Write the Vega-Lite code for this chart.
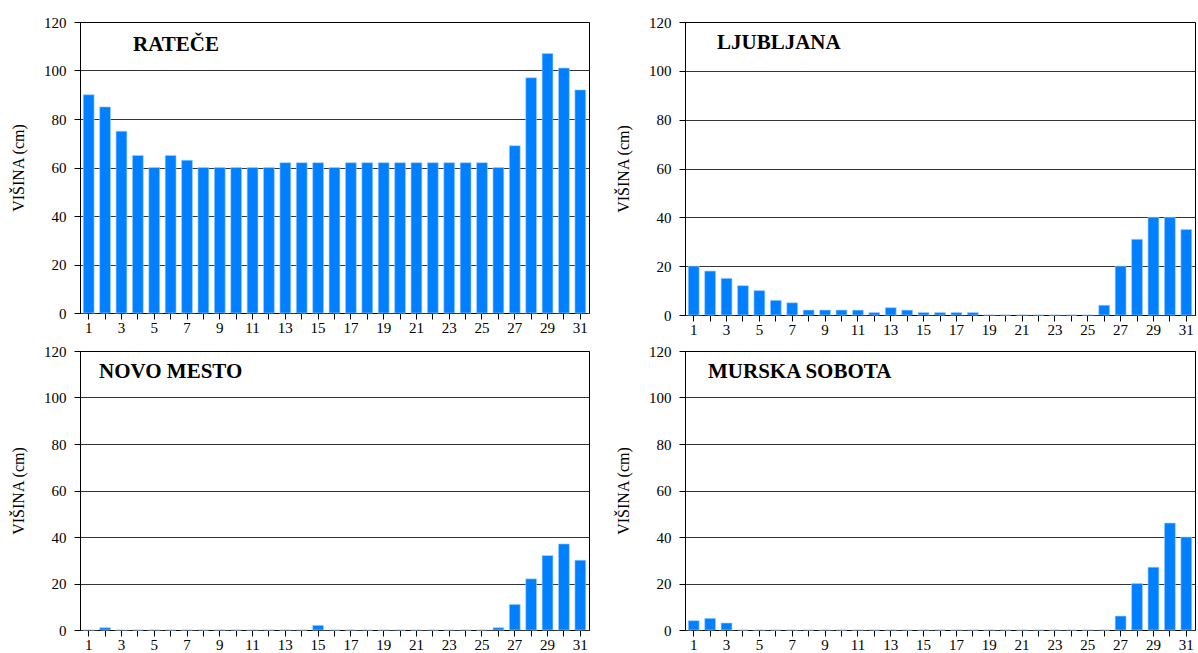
{
  "$schema": "https://vega.github.io/schema/vega-lite/v6.json",
  "background": "white",
  "padding": {"left": 10, "top": 14, "right": 0, "bottom": 0},
  "spacing": {"column": 25, "row": 5},
  "columns": 2,
  "datasets": {
    "snow": [
      {"station": "RATEČE", "day": 1, "cm": 90}, {"station": "RATEČE", "day": 2, "cm": 85}, {"station": "RATEČE", "day": 3, "cm": 75}, {"station": "RATEČE", "day": 4, "cm": 65}, {"station": "RATEČE", "day": 5, "cm": 60}, {"station": "RATEČE", "day": 6, "cm": 65}, {"station": "RATEČE", "day": 7, "cm": 63}, {"station": "RATEČE", "day": 8, "cm": 60}, {"station": "RATEČE", "day": 9, "cm": 60}, {"station": "RATEČE", "day": 10, "cm": 60}, {"station": "RATEČE", "day": 11, "cm": 60}, {"station": "RATEČE", "day": 12, "cm": 60}, {"station": "RATEČE", "day": 13, "cm": 62}, {"station": "RATEČE", "day": 14, "cm": 62}, {"station": "RATEČE", "day": 15, "cm": 62}, {"station": "RATEČE", "day": 16, "cm": 60}, {"station": "RATEČE", "day": 17, "cm": 62}, {"station": "RATEČE", "day": 18, "cm": 62}, {"station": "RATEČE", "day": 19, "cm": 62}, {"station": "RATEČE", "day": 20, "cm": 62}, {"station": "RATEČE", "day": 21, "cm": 62}, {"station": "RATEČE", "day": 22, "cm": 62}, {"station": "RATEČE", "day": 23, "cm": 62}, {"station": "RATEČE", "day": 24, "cm": 62}, {"station": "RATEČE", "day": 25, "cm": 62}, {"station": "RATEČE", "day": 26, "cm": 60}, {"station": "RATEČE", "day": 27, "cm": 69}, {"station": "RATEČE", "day": 28, "cm": 97}, {"station": "RATEČE", "day": 29, "cm": 107}, {"station": "RATEČE", "day": 30, "cm": 101}, {"station": "RATEČE", "day": 31, "cm": 92},
      {"station": "LJUBLJANA", "day": 1, "cm": 20}, {"station": "LJUBLJANA", "day": 2, "cm": 18}, {"station": "LJUBLJANA", "day": 3, "cm": 15}, {"station": "LJUBLJANA", "day": 4, "cm": 12}, {"station": "LJUBLJANA", "day": 5, "cm": 10}, {"station": "LJUBLJANA", "day": 6, "cm": 6}, {"station": "LJUBLJANA", "day": 7, "cm": 5}, {"station": "LJUBLJANA", "day": 8, "cm": 2}, {"station": "LJUBLJANA", "day": 9, "cm": 2}, {"station": "LJUBLJANA", "day": 10, "cm": 2}, {"station": "LJUBLJANA", "day": 11, "cm": 2}, {"station": "LJUBLJANA", "day": 12, "cm": 1}, {"station": "LJUBLJANA", "day": 13, "cm": 3}, {"station": "LJUBLJANA", "day": 14, "cm": 2}, {"station": "LJUBLJANA", "day": 15, "cm": 1}, {"station": "LJUBLJANA", "day": 16, "cm": 1}, {"station": "LJUBLJANA", "day": 17, "cm": 1}, {"station": "LJUBLJANA", "day": 18, "cm": 1}, {"station": "LJUBLJANA", "day": 19, "cm": 0}, {"station": "LJUBLJANA", "day": 20, "cm": 0}, {"station": "LJUBLJANA", "day": 21, "cm": 0}, {"station": "LJUBLJANA", "day": 22, "cm": 0}, {"station": "LJUBLJANA", "day": 23, "cm": 0}, {"station": "LJUBLJANA", "day": 24, "cm": 0}, {"station": "LJUBLJANA", "day": 25, "cm": 0}, {"station": "LJUBLJANA", "day": 26, "cm": 4}, {"station": "LJUBLJANA", "day": 27, "cm": 20}, {"station": "LJUBLJANA", "day": 28, "cm": 31}, {"station": "LJUBLJANA", "day": 29, "cm": 40}, {"station": "LJUBLJANA", "day": 30, "cm": 40}, {"station": "LJUBLJANA", "day": 31, "cm": 35},
      {"station": "NOVO MESTO", "day": 1, "cm": 0}, {"station": "NOVO MESTO", "day": 2, "cm": 1}, {"station": "NOVO MESTO", "day": 3, "cm": 0}, {"station": "NOVO MESTO", "day": 4, "cm": 0}, {"station": "NOVO MESTO", "day": 5, "cm": 0}, {"station": "NOVO MESTO", "day": 6, "cm": 0}, {"station": "NOVO MESTO", "day": 7, "cm": 0}, {"station": "NOVO MESTO", "day": 8, "cm": 0}, {"station": "NOVO MESTO", "day": 9, "cm": 0}, {"station": "NOVO MESTO", "day": 10, "cm": 0}, {"station": "NOVO MESTO", "day": 11, "cm": 0}, {"station": "NOVO MESTO", "day": 12, "cm": 0}, {"station": "NOVO MESTO", "day": 13, "cm": 0}, {"station": "NOVO MESTO", "day": 14, "cm": 0}, {"station": "NOVO MESTO", "day": 15, "cm": 2}, {"station": "NOVO MESTO", "day": 16, "cm": 0}, {"station": "NOVO MESTO", "day": 17, "cm": 0}, {"station": "NOVO MESTO", "day": 18, "cm": 0}, {"station": "NOVO MESTO", "day": 19, "cm": 0}, {"station": "NOVO MESTO", "day": 20, "cm": 0}, {"station": "NOVO MESTO", "day": 21, "cm": 0}, {"station": "NOVO MESTO", "day": 22, "cm": 0}, {"station": "NOVO MESTO", "day": 23, "cm": 0}, {"station": "NOVO MESTO", "day": 24, "cm": 0}, {"station": "NOVO MESTO", "day": 25, "cm": 0}, {"station": "NOVO MESTO", "day": 26, "cm": 1}, {"station": "NOVO MESTO", "day": 27, "cm": 11}, {"station": "NOVO MESTO", "day": 28, "cm": 22}, {"station": "NOVO MESTO", "day": 29, "cm": 32}, {"station": "NOVO MESTO", "day": 30, "cm": 37}, {"station": "NOVO MESTO", "day": 31, "cm": 30},
      {"station": "MURSKA SOBOTA", "day": 1, "cm": 4}, {"station": "MURSKA SOBOTA", "day": 2, "cm": 5}, {"station": "MURSKA SOBOTA", "day": 3, "cm": 3}, {"station": "MURSKA SOBOTA", "day": 4, "cm": 0}, {"station": "MURSKA SOBOTA", "day": 5, "cm": 0}, {"station": "MURSKA SOBOTA", "day": 6, "cm": 0}, {"station": "MURSKA SOBOTA", "day": 7, "cm": 0}, {"station": "MURSKA SOBOTA", "day": 8, "cm": 0}, {"station": "MURSKA SOBOTA", "day": 9, "cm": 0}, {"station": "MURSKA SOBOTA", "day": 10, "cm": 0}, {"station": "MURSKA SOBOTA", "day": 11, "cm": 0}, {"station": "MURSKA SOBOTA", "day": 12, "cm": 0}, {"station": "MURSKA SOBOTA", "day": 13, "cm": 0}, {"station": "MURSKA SOBOTA", "day": 14, "cm": 0}, {"station": "MURSKA SOBOTA", "day": 15, "cm": 0}, {"station": "MURSKA SOBOTA", "day": 16, "cm": 0}, {"station": "MURSKA SOBOTA", "day": 17, "cm": 0}, {"station": "MURSKA SOBOTA", "day": 18, "cm": 0}, {"station": "MURSKA SOBOTA", "day": 19, "cm": 0}, {"station": "MURSKA SOBOTA", "day": 20, "cm": 0}, {"station": "MURSKA SOBOTA", "day": 21, "cm": 0}, {"station": "MURSKA SOBOTA", "day": 22, "cm": 0}, {"station": "MURSKA SOBOTA", "day": 23, "cm": 0}, {"station": "MURSKA SOBOTA", "day": 24, "cm": 0}, {"station": "MURSKA SOBOTA", "day": 25, "cm": 0}, {"station": "MURSKA SOBOTA", "day": 26, "cm": 0}, {"station": "MURSKA SOBOTA", "day": 27, "cm": 6}, {"station": "MURSKA SOBOTA", "day": 28, "cm": 20}, {"station": "MURSKA SOBOTA", "day": 29, "cm": 27}, {"station": "MURSKA SOBOTA", "day": 30, "cm": 46}, {"station": "MURSKA SOBOTA", "day": 31, "cm": 40}
    ]
  },
  "config": {
    "font": "Liberation Serif",
    "view": {"stroke": "black", "strokeWidth": 1},
    "bar": {"color": "#0080FF", "stroke": "#9fcfff", "strokeWidth": 0.6},
    "scale": {"bandPaddingInner": 0.34, "bandPaddingOuter": 0.2},
    "axis": {
      "labelFont": "Liberation Serif", "labelFontSize": 15, "labelColor": "black",
      "titleFont": "Liberation Serif", "titleFontSize": 16, "titleFontWeight": "normal", "titleColor": "black",
      "domainColor": "black", "tickColor": "black", "tickSize": 6
    },
    "axisX": {"domainDash": [6, 5], "domainColor": "#333", "labelAngle": 0, "grid": false, "labelFlush": false, "labelPadding": 1},
    "axisY": {"gridColor": "black", "gridWidth": 0.8, "gridOpacity": 1, "titlePadding": 17, "labelPadding": 8},
    "title": {"font": "Liberation Serif", "fontSize": 21, "fontWeight": "bold", "color": "black", "anchor": "start", "frame": "group", "baseline": "alphabetic"}
  },
  "concat": [
    {
      "width": 509, "height": 291,
      "title": {"text": "RATEČE", "offset": -40, "dx": 53},
      "data": {"name": "snow"},
      "transform": [{"filter": "datum.station === 'RATEČE'"}],
      "mark": "bar",
      "encoding": {
        "x": {"field": "day", "type": "ordinal", "sort": null, "title": null, "axis": {"labelExpr": "datum.value % 2 === 1 ? datum.label : ''"}},
        "y": {"field": "cm", "type": "quantitative", "scale": {"domain": [0, 120]}, "title": "VIŠINA (cm)", "axis": {"values": [0, 20, 40, 60, 80, 100, 120]}}
      }
    },
    {
      "width": 510, "height": 293,
      "title": {"text": "LJUBLJANA", "offset": -38, "dx": 32},
      "data": {"name": "snow"},
      "transform": [{"filter": "datum.station === 'LJUBLJANA'"}],
      "mark": "bar",
      "encoding": {
        "x": {"field": "day", "type": "ordinal", "sort": null, "title": null, "axis": {"labelExpr": "datum.value % 2 === 1 ? datum.label : ''"}},
        "y": {"field": "cm", "type": "quantitative", "scale": {"domain": [0, 120]}, "title": "VIŠINA (cm)", "axis": {"values": [0, 20, 40, 60, 80, 100, 120]}}
      }
    },
    {
      "width": 509, "height": 279,
      "title": {"text": "NOVO MESTO", "offset": -38, "dx": 19},
      "data": {"name": "snow"},
      "transform": [{"filter": "datum.station === 'NOVO MESTO'"}],
      "mark": "bar",
      "encoding": {
        "x": {"field": "day", "type": "ordinal", "sort": null, "title": null, "axis": {"labelExpr": "datum.value % 2 === 1 ? datum.label : ''"}},
        "y": {"field": "cm", "type": "quantitative", "scale": {"domain": [0, 120]}, "title": "VIŠINA (cm)", "axis": {"values": [0, 20, 40, 60, 80, 100, 120]}}
      }
    },
    {
      "width": 510, "height": 279,
      "title": {"text": "MURSKA SOBOTA", "offset": -38, "dx": 23},
      "data": {"name": "snow"},
      "transform": [{"filter": "datum.station === 'MURSKA SOBOTA'"}],
      "mark": "bar",
      "encoding": {
        "x": {"field": "day", "type": "ordinal", "sort": null, "title": null, "axis": {"labelExpr": "datum.value % 2 === 1 ? datum.label : ''"}},
        "y": {"field": "cm", "type": "quantitative", "scale": {"domain": [0, 120]}, "title": "VIŠINA (cm)", "axis": {"values": [0, 20, 40, 60, 80, 100, 120]}}
      }
    }
  ]
}
